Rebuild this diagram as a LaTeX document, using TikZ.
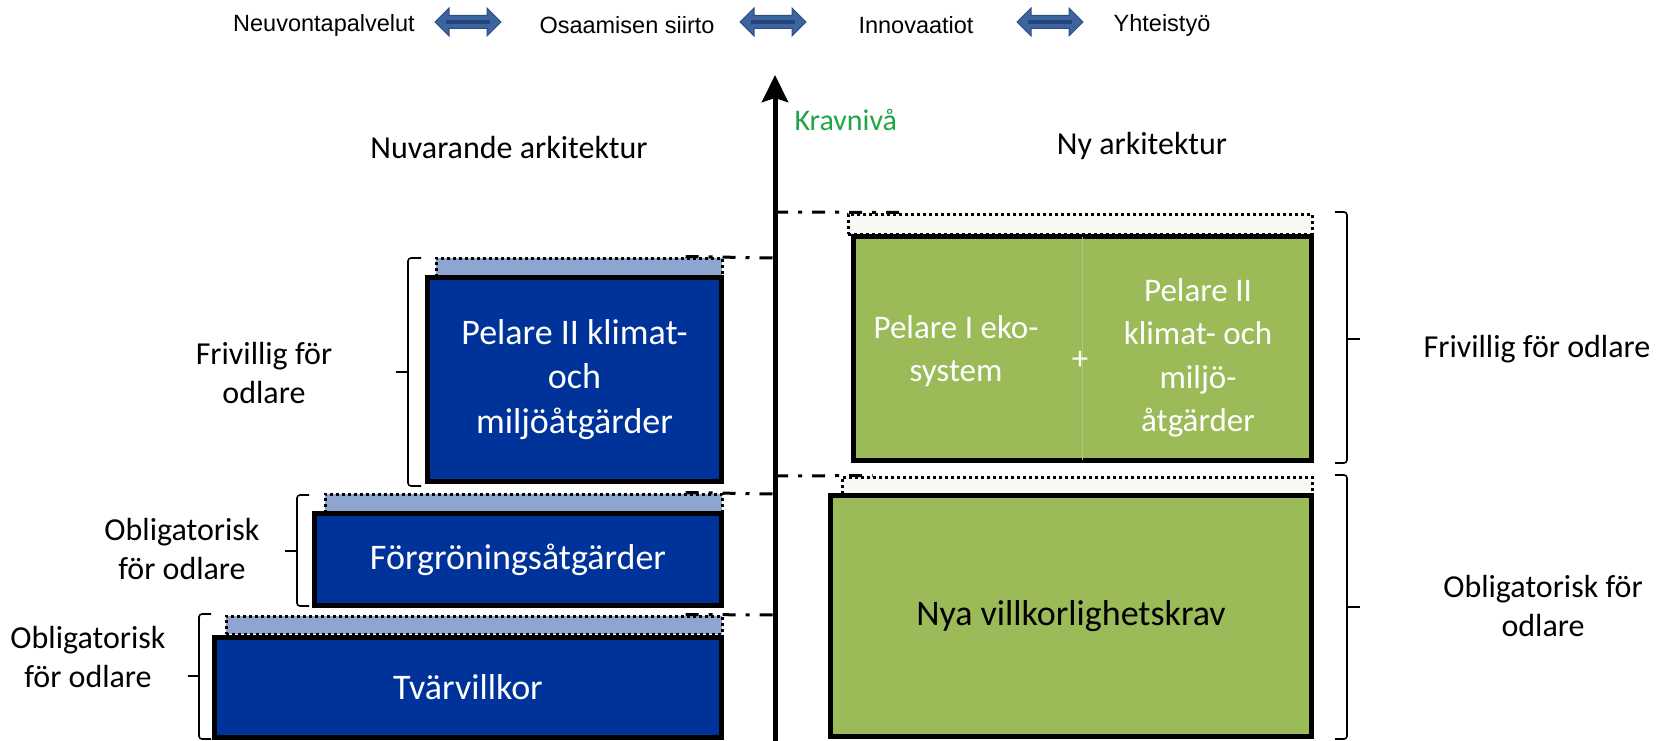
\documentclass[tikz,border=0pt]{standalone}
\usepackage{fontspec}
\setmainfont{Carlito}
\newfontfamily\arialfont{Liberation Sans}
\usetikzlibrary{arrows.meta,shapes.arrows}

\definecolor{boxblue}{RGB}{0,51,153}
\definecolor{stripblue}{RGB}{142,165,208}
\definecolor{boxgreen}{RGB}{155,187,89}
\definecolor{stripgreen}{RGB}{248,248,244}
\definecolor{arrowblue}{RGB}{62,100,158}
\definecolor{arrowedge}{RGB}{45,78,130}
\definecolor{arrowdark}{RGB}{36,70,128}
\definecolor{kravgreen}{RGB}{30,165,70}

\tikzset{
  bluebox/.style={draw, line width=5pt, fill=boxblue, text=white, align=center, inner sep=0pt,
    font=\fontsize{36}{44.5}\selectfont},
  greenbox/.style={draw, line width=5pt, fill=boxgreen, align=center, inner sep=0pt,
    font=\fontsize{36}{44}\selectfont},
  bluestrip/.style={draw, fill=stripblue, line width=3pt, dash pattern=on 3pt off 3pt, inner sep=0pt},
  greenstrip/.style={draw, fill=stripgreen, line width=3pt, dash pattern=on 3pt off 3pt, inner sep=0pt},
  dashdot/.style={line width=3pt, dash pattern=on 13pt off 10pt on 4pt off 10pt},
  brk/.style={line width=1.6pt, rounded corners=3pt},
  lbl/.style={align=center, font=\fontsize{32}{39}\selectfont},
  greentxt/.style={align=center, text=white, font=\fontsize{33}{43.5}\selectfont},
  toplbl/.style={font=\arialfont\fontsize{23.5}{28}\selectfont},
  dblarrow/.style={double arrow, double arrow head extend=7.5pt, inner xsep=0pt, inner ysep=6pt,
    minimum height=66pt, fill=arrowblue, draw=arrowedge, line width=1pt}
}

\begin{document}
\begin{tikzpicture}[x=1pt, y=-1pt, >={Stealth[length=27pt,width=26pt,inset=4pt]}]
\useasboundingbox (0,0) rectangle (1656,741);

% top row
\node[toplbl] (neuvonta) at (324,25) {Neuvontapalvelut};
\node[dblarrow] (arr1) at (468,22) {};
\node[toplbl] (osaaminen) at (627,25) {Osaamisen siirto};
\node[dblarrow] (arr2) at (773,22) {};
\node[toplbl] (innovaatiot) at (916,25) {Innovaatiot};
\node[dblarrow] (arr3) at (1050,22) {};
\node[toplbl] (yhteistyo) at (1162,25) {Yhteistyö};
\foreach \a in {arr1,arr2,arr3}
{
    \draw[arrowdark, line width=4pt] ([xshift=12pt]\a.west) -- ([xshift=-12pt]\a.east);
}

% axis
\coordinate (axbot) at (775,741);
\coordinate (axtop) at (775,75);
\draw[->, line width=5pt] (axbot) -- (axtop);
\node[anchor=west, text=kravgreen, font=\fontsize{30}{36}\selectfont] (krav) at (791,120) {Kravnivå};

\node[lbl] (nuvarande) at (509,148) {Nuvarande arkitektur};
\node[lbl] (ny) at (1142,146) {Ny arkitektur};

% left column
\node[bluestrip, minimum width=286pt, minimum height=18pt] (pelaretop) at (579,267) {};
\node[bluebox, minimum width=294pt, minimum height=204pt] (pelare) at (574.5,379.5)
    {Pelare II klimat-\\och\\miljöåtgärder};
\node[bluestrip, minimum width=397pt, minimum height=18pt] (forgtop) at (523.5,503) {};
\node[bluebox, minimum width=407pt, minimum height=92pt] (forg) at (518,559.5) {Förgröningsåtgärder};
\node[bluestrip, minimum width=496pt, minimum height=18pt] (tvartop) at (474,625) {};
\node[bluebox, minimum width=507pt, minimum height=100pt] (tvar) at (468,687) {Tvärvillkor};

% right column
\node[greenstrip, minimum width=464pt, minimum height=20pt] (gtop) at (1080,224) {};
\node[greenbox, minimum width=458pt, minimum height=224pt] (gupper) at (1082.5,348.5) {};
\draw[boxgreen!80!white, line width=0.8pt] ([yshift=-3pt]gupper.north) -- ([yshift=3pt]gupper.south);
\node[greentxt] (eko) at (956,351) {Pelare I eko-\\system};
\node[greentxt] (plus) at (1080,360) {+};
\node[greentxt] (pelare2) at (1198,358) {Pelare II\\klimat- och\\miljö-\\åtgärder};
\node[greenstrip, minimum width=470pt, minimum height=18pt] (gbottop) at (1077,486) {};
\node[greenbox, minimum width=481pt, minimum height=241pt] (glower) at (1071,616) {Nya villkorlighetskrav};

% level lines
\coordinate (ax1) at (775,258);
\coordinate (ax2) at (775,494);
\coordinate (ax3) at (775,615);
\coordinate (ax4) at (775,212);
\coordinate (ax5) at (775,476);
\draw[dashdot] ([xshift=-38pt]pelaretop.north east) -- (ax1);
\draw[dashdot] ([xshift=-38pt]forgtop.north east) -- (ax2);
\draw[dashdot] ([xshift=-38pt]tvartop.north east) -- (ax3);
\draw[dashdot] (ax4) -- ([xshift=60pt]gtop.north west);
\draw[dashdot] (ax5) -- ([xshift=32pt]gbottop.north west);

% brackets
\draw[brk] (421,258) -- (408,258) -- (408,486) -- (421,486);
\draw[brk] (408,372) -- (396,372);
\draw[brk] (309,495) -- (297,495) -- (297,606) -- (309,606);
\draw[brk] (297,551) -- (285,551);
\draw[brk] (211,614) -- (199,614) -- (199,739) -- (211,739);
\draw[brk] (199,676) -- (188,676);
\draw[brk] (1335,212) -- (1347,212) -- (1347,463) -- (1335,463);
\draw[brk] (1347,339) -- (1360,339);
\draw[brk] (1335,475) -- (1347,475) -- (1347,739) -- (1335,739);
\draw[brk] (1347,607) -- (1360,607);

\node[lbl] (frivleft) at (264,373) {Frivillig för\\odlare};
\node[lbl] (obligleft) at (182,549) {Obligatorisk\\för odlare};
\node[lbl] (obligtvar) at (88,657) {Obligatorisk\\för odlare};
\node[lbl] (frivright) at (1537,349) {Frivillig för odlare};
\node[lbl] (obligright) at (1543,606) {Obligatorisk för\\odlare};

\end{tikzpicture}
\end{document}
